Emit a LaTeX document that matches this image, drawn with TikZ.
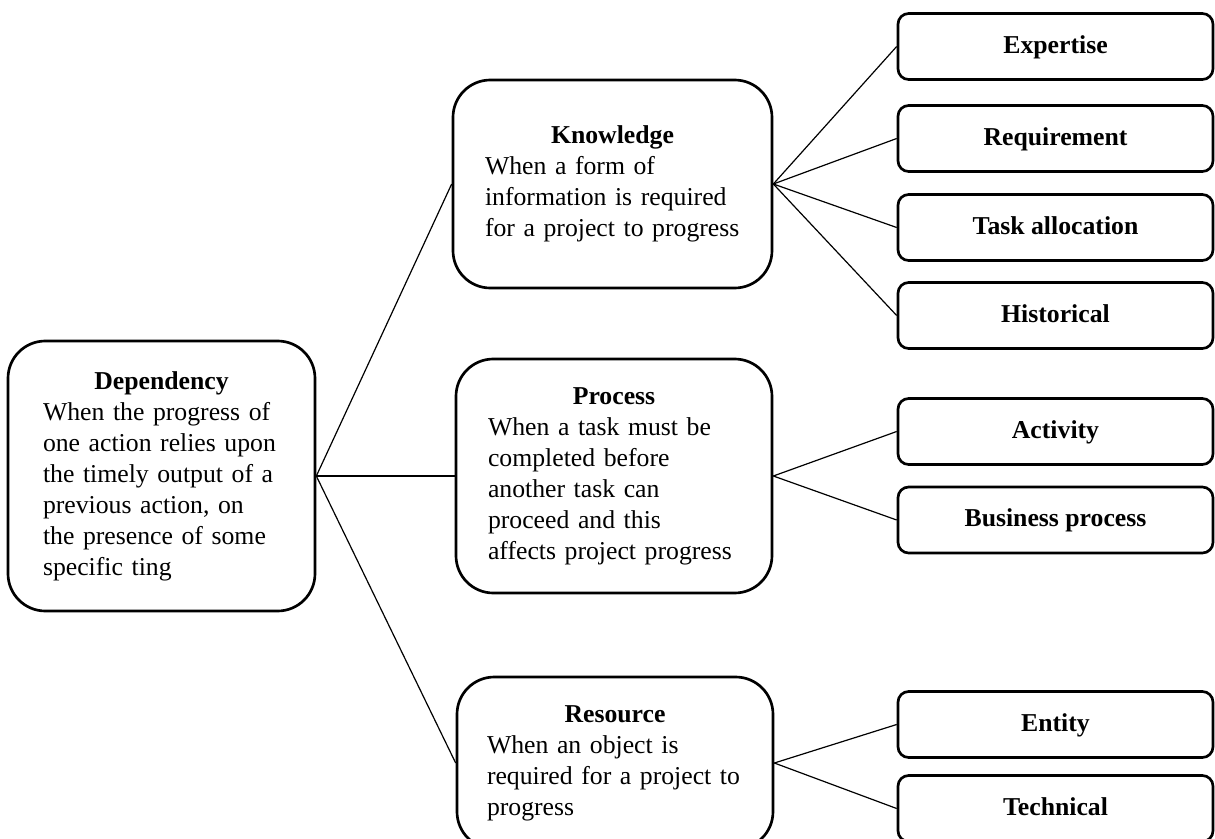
\documentclass[tikz,border=0pt]{standalone}
\usepackage{fontspec}
\setmainfont{Liberation Serif}
\begin{document}
\begin{tikzpicture}[x=0.75pt,y=-0.75pt,
  bigbox/.style={draw,line width=2pt,rounded corners=28pt,inner sep=0pt,
    align=left,font=\fontsize{19.3pt}{23.25pt}\selectfont},
  leafbox/.style={draw,line width=2pt,rounded corners=8pt,inner sep=0pt,
    minimum width=236.25pt,minimum height=49.5pt,
    text height=9.75pt,text depth=0pt,
    font=\fontsize{19.3pt}{23.25pt}\selectfont\bfseries},
  link/.style={line width=0.9pt}]
\useasboundingbox (0,0) rectangle (1215,839);
\clip (0,0) rectangle (1215,839);

% root
\node[bigbox,minimum width=230.25pt,minimum height=202.5pt,text width=177.75pt]
  (dep) at (161.5,476)
  {\centering\textbf{Dependency}\par\raggedright
   When the progress of\\ one action relies upon\\ the timely output of a\\
   previous action, on\\ the presence of some\\ specific ting\par};

% categories
\node[bigbox,minimum width=239.25pt,minimum height=156pt,text width=191.25pt]
  (know) at (612.5,184)
  {\centering\textbf{Knowledge}\par\raggedright
   When a form of\\ information is required\\ for a project to progress\par};
\node[bigbox,minimum width=237pt,minimum height=175.5pt,text width=189pt]
  (proc) at (614,476)
  {\centering\textbf{Process}\par\raggedright
   When a task must be\\ completed before\\ another task can\\
   proceed and this\\ affects project progress\par};
\node[bigbox,minimum width=237pt,minimum height=129pt,text width=192pt]
  (res) at (615,763)
  {\centering\textbf{Resource}\par\raggedright
   When an object is\\ required for a project to\\ progress\par};

% leaves
\node[leafbox] (exp)  at (1055.5,46.5)  {Expertise};
\node[leafbox] (req)  at (1055.5,138.5) {Requirement};
\node[leafbox] (task) at (1055.5,227.5) {Task allocation};
\node[leafbox] (hist) at (1055.5,315.5) {Historical};
\node[leafbox] (act)  at (1055.5,431.5) {Activity};
\node[leafbox] (bus)  at (1055.5,520)   {Business process};
\node[leafbox] (ent)  at (1055.5,724.5) {Entity};
\node[leafbox] (tech) at (1055.5,808.5) {Technical};

% connectors
\draw[link] (dep.east) -- (know.west);
\draw[link] (dep.east) -- (proc.west);
\draw[link] (dep.east) -- (res.west);
\foreach \t in {exp,req,task,hist} \draw[link] (know.east) -- (\t.west);
\foreach \t in {act,bus} \draw[link] (proc.east) -- (\t.west);
\foreach \t in {ent,tech} \draw[link] (res.east) -- (\t.west);
\end{tikzpicture}
\end{document}
